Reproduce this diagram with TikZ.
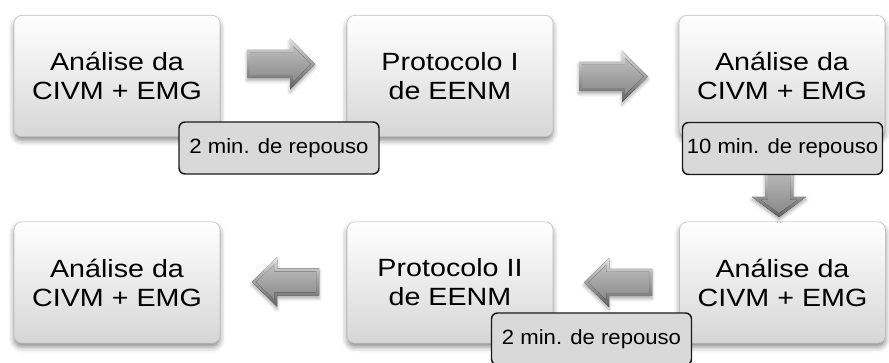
\documentclass[tikz,border=0pt]{standalone}
\usepackage{fontspec}
\setmainfont{Liberation Sans}
\newfontfamily\boxfont[FakeStretch=1.15]{Liberation Sans}
\newfontfamily\notefont[FakeStretch=1.07]{Liberation Sans}
\usetikzlibrary{shadows.blur}

\tikzset{
  stepbox/.style={rounded corners=6pt, draw=black!25, line width=0.4pt,
    top color=white, bottom color=black!16,
    minimum width=154.5pt, minimum height=91pt, inner sep=0pt,
    align=center, text=black,
    font=\boxfont\fontsize{18.7pt}{21.75pt}\selectfont,
    blur shadow={shadow xshift=0pt, shadow yshift=-3pt,
      shadow blur radius=4pt, shadow opacity=45}},
  restnote/.style={rounded corners=4.5pt, draw=black!90, line width=1.1pt,
    fill=black!15, minimum width=150pt, minimum height=39pt, inner sep=0pt,
    font=\notefont\fontsize{15.5pt}{18pt}\selectfont},
  arrowrim/.style={top color=black!12, bottom color=black!62},
  arrowface/.style={top color=black!26, bottom color=black!46},
}

% Bevelled block arrow: tail centre (#1,#2), rotation #3, length #4,
% head base at #5, shaft half-height #6, head half-height #7
\newcommand\blockarrow[7]{%
  \begin{scope}[shift={(#1,#2)}, rotate=#3]
    \pgfmathsetmacro\ak{#4-#5}%
    \pgfmathsetmacro\al{sqrt(\ak*\ak+#7*#7)}%
    \pgfmathsetmacro\acy{#7-3*(#7+\al)/\ak}%
    \pgfmathsetmacro\atip{#4-3*\al/#7}%
    \fill[arrowrim, blur shadow={shadow xshift=0pt, shadow yshift=-2pt,
        shadow blur radius=2.5pt, shadow opacity=35}]
      (0,-#6) -- (#5,-#6) -- (#5,-#7) -- (#4,0) -- (#5,#7) -- (#5,#6)
      -- (0,#6) -- cycle;
    \fill[arrowface]
      (3,{-#6+3}) -- ({#5+3},{-#6+3}) -- ({#5+3},-\acy) -- (\atip,0)
      -- ({#5+3},\acy) -- ({#5+3},{#6-3}) -- (3,{#6-3}) -- cycle;
  \end{scope}}

\begin{document}
\begin{tikzpicture}[x={(0.75pt,0pt)}, y={(0pt,-0.75pt)}]
  \useasboundingbox (0,0) rectangle (889,363);

  % process steps
  \node[stepbox] (b1) at (117,76)    {Análise da\\CIVM + EMG};
  \node[stepbox] (b2) at (450,76)    {Protocolo I\\de EENM};
  \node[stepbox] (b3) at (782,76)    {Análise da\\CIVM + EMG};
  \node[stepbox] (b4) at (782.5,282.5) {Análise da\\CIVM + EMG};
  \node[stepbox] (b5) at (450,282.5) {Protocolo II\\de EENM};
  \node[stepbox] (b6) at (117,282.5) {Análise da\\CIVM + EMG};

  % flow arrows
  \blockarrow{247}{64}{0}{68}{43}{14}{25.5}
  \blockarrow{579}{76.5}{0}{69}{43}{14.5}{25.5}
  \blockarrow{779}{165}{-90}{52}{32}{14}{27}
  \blockarrow{652}{282.5}{180}{68}{43}{13.5}{24.5}
  \blockarrow{319}{282}{180}{67}{42}{13.5}{24.5}

  % rest intervals
  \node[restnote] (n1) at (279,148)   {2 min. de repouso};
  \node[restnote] (n2) at (782.5,148.5) {10 min. de repouso};
  \node[restnote] (n3) at (591.5,339) {2 min. de repouso};
\end{tikzpicture}
\end{document}
